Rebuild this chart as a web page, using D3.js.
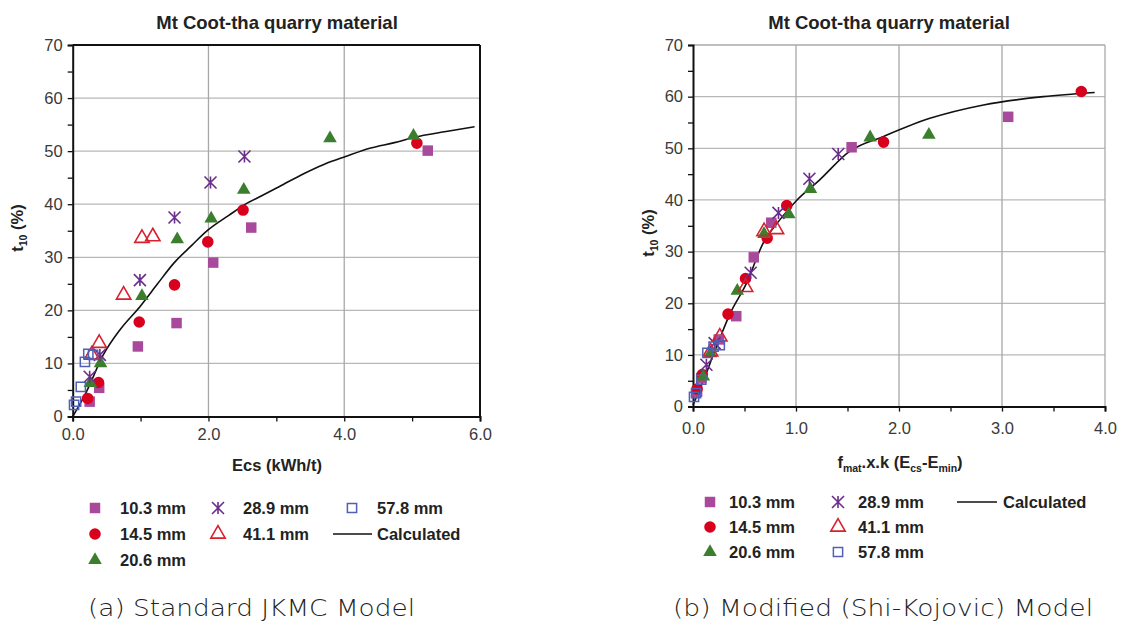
<!DOCTYPE html>
<html><head><meta charset="utf-8">
<script src="https://cdn.jsdelivr.net/npm/d3@7"></script>
<style>
html,body{margin:0;padding:0;background:#fff;}
svg{display:block;font-family:"Liberation Sans",Arial,sans-serif;}
</style></head>
<body>
<svg id="chart" width="1122" height="621"></svg>
<script>
// ---------- DATA ----------
const seriesNames = ["10.3 mm","14.5 mm","20.6 mm","28.9 mm","41.1 mm","57.8 mm"];
const yTicks = [0,10,20,30,40,50,60,70];
const xTicksA = ["0.0","2.0","4.0","6.0"];
const xTicksB = ["0.0","1.0","2.0","3.0","4.0"];

// (a) Standard JKMC model: [Ecs, t10]
const a103 = [[5.23,50.1],[2.63,35.6],[2.07,29.0],[1.53,17.6],[0.96,13.2],[0.39,5.4],[0.25,2.8]];
const a145 = [[5.07,51.5],[2.51,38.9],[1.99,32.9],[1.50,24.8],[0.98,17.8],[0.38,6.4],[0.22,3.4]];
const a206 = [[3.79,52.4],[5.02,52.9],[2.52,42.7],[2.04,37.3],[1.54,33.4],[1.02,22.7],[0.41,10.0],[0.26,6.3]];
const a289 = [[2.53,49.0],[2.03,44.1],[1.50,37.5],[0.99,25.7],[0.40,11.6],[0.25,7.5]];
const a411 = [[1.18,33.9],[1.02,33.6],[0.75,22.9],[0.39,13.8],[0.28,11.6]];
const a578 = [[0.23,11.8],[0.30,11.6],[0.18,10.3],[0.12,5.6],[0.05,2.8],[0.02,2.2]];
const aCalc = [[0,0],[0.1,2.2],[0.2,4.6],[0.45,11.6],[0.7,16.4],[0.99,20.7],[1.25,25.0],[1.49,28.9],[1.75,32.2],[1.99,35.1],[2.3,37.9],[2.57,40.2],[2.77,41.5],[3.04,43.3],[3.41,45.8],[3.7,47.5],[4.02,49.0],[4.39,50.6],[4.74,51.6],[5.03,52.6],[5.5,53.7],[5.92,54.6]];

// (b) Modified (Shi-Kojovic) model: [fmat.x.k(Ecs-Emin), t10]
const b103 = [[3.06,56.1],[1.54,50.2],[0.76,35.6],[0.59,28.9],[0.42,17.5],[0.25,13.0],[0.08,5.5],[0.04,2.9]];
const b145 = [[3.77,61.0],[1.85,51.2],[0.91,38.9],[0.72,32.6],[0.51,24.8],[0.34,17.9],[0.09,6.2],[0.04,3.4]];
const b206 = [[2.29,52.6],[1.72,52.1],[1.14,42.1],[0.93,37.2],[0.69,33.4],[0.43,22.4],[0.17,10.3],[0.10,5.8]];
const b289 = [[1.41,48.9],[1.13,44.1],[0.83,37.5],[0.56,25.9],[0.21,12.3],[0.13,8.1]];
const b411 = [[0.81,34.3],[0.69,33.9],[0.51,23.1],[0.26,13.5],[0.17,10.6]];
const b578 = [[0.26,11.9],[0.20,11.6],[0.14,10.4],[0.08,5.2],[0.03,2.6],[0.01,1.9]];
const bCalc = [[0,0.3],[0.05,2.6],[0.12,6.0],[0.2,10.2],[0.26,13.2],[0.36,18.0],[0.52,23.9],[0.68,31.6],[0.84,36.1],[1.01,40.0],[1.23,43.9],[1.52,49.4],[1.85,52.3],[2.3,55.8],[2.82,58.4],[3.4,60.0],[3.9,60.8]];

// ---------- STYLES ----------
const styles = [
  {type:"square", fill:"#a8499c", stroke:"none"},
  {type:"circle", fill:"#d8001c", stroke:"none"},
  {type:"triangle", fill:"#3b7f2e", stroke:"none"},
  {type:"asterisk", fill:"none", stroke:"#6b2d8c"},
  {type:"otriangle", fill:"none", stroke:"#d8202e"},
  {type:"osquare", fill:"none", stroke:"#5060b4"}
];
const FS = 16.5;
const TXT = "#222";

const svg = d3.select("#chart");

function drawMarker(g, st, x, y) {
  if (st.type === "square") {
    g.append("path").attr("d", d3.symbol(d3.symbolSquare, 110)()).attr("transform",`translate(${x},${y})`).attr("fill",st.fill);
  } else if (st.type === "circle") {
    g.append("path").attr("d", d3.symbol(d3.symbolCircle, 105)()).attr("transform",`translate(${x},${y})`).attr("fill",st.fill);
  } else if (st.type === "triangle") {
    g.append("path").attr("d", d3.symbol(d3.symbolTriangle, 80)()).attr("transform",`translate(${x},${y})`).attr("fill",st.fill);
  } else if (st.type === "otriangle") {
    g.append("path").attr("d", d3.symbol(d3.symbolTriangle, 90)()).attr("transform",`translate(${x},${y})`).attr("fill","none").attr("stroke",st.stroke).attr("stroke-width",1.6);
  } else if (st.type === "osquare") {
    g.append("path").attr("d", d3.symbol(d3.symbolSquare, 85)()).attr("transform",`translate(${x},${y})`).attr("fill","none").attr("stroke",st.stroke).attr("stroke-width",1.5);
  } else if (st.type === "asterisk") {
    const r = 6;
    g.append("path").attr("d", `M${-r},${-r}L${r},${r}M${-r},${r}L${r},${-r}M0,${-r}L0,${r}`)
      .attr("transform",`translate(${x},${y})`).attr("fill","none").attr("stroke",st.stroke).attr("stroke-width",1.6);
  }
}

function panel(cfg) {
  const x = d3.scaleLinear().domain(cfg.xDomain).range([cfg.left, cfg.right]);
  const y = d3.scaleLinear().domain([0,70]).range([cfg.bottom, cfg.top]);
  const g = svg.append("g");

  const xMajorVals = cfg.xTicks.map(Number);
  g.selectAll(null).data(yTicks.slice(1, -1)).enter().append("line")
    .attr("x1", cfg.left).attr("x2", cfg.right).attr("y1", d=>y(d)).attr("y2", d=>y(d))
    .attr("stroke","#b8b8b8").attr("stroke-width",1.3);
  g.selectAll(null).data(xMajorVals.slice(1, -1)).enter().append("line")
    .attr("y1", cfg.top).attr("y2", cfg.bottom).attr("x1", d=>x(d)).attr("x2", d=>x(d))
    .attr("stroke","#a8a8a8").attr("stroke-width",1.3);

  g.append("line").attr("x1",cfg.left).attr("x2",cfg.right).attr("y1",cfg.top).attr("y2",cfg.top)
    .attr("stroke",cfg.frameColor).attr("stroke-width",cfg.frameWidth);
  g.append("line").attr("x1",cfg.right).attr("x2",cfg.right).attr("y1",cfg.top).attr("y2",cfg.bottom)
    .attr("stroke",cfg.frameColor).attr("stroke-width",cfg.frameWidth);

  const yAxis = d3.axisLeft(y).tickValues(d3.range(0, 71, 5)).tickSize(5)
    .tickFormat(d => yTicks.includes(d) ? String(d) : "");
  const ya = g.append("g").attr("transform",`translate(${cfg.left},0)`).call(yAxis);
  ya.select(".domain").attr("stroke","#111").attr("stroke-width",2);
  ya.selectAll(".tick line").attr("stroke","#111").attr("stroke-width",1.3);
  ya.selectAll(".tick text").attr("font-size",FS).attr("fill","#3a3a3a").attr("x",-10)
    .attr("font-family","'Liberation Sans',Arial,sans-serif");

  const xAxis = d3.axisBottom(x).tickValues(d3.range(cfg.xDomain[0], cfg.xDomain[1] + 1e-9, cfg.xMinor)).tickSize(5)
    .tickFormat(d => { const i = xMajorVals.findIndex(v => Math.abs(v - d) < 1e-9); return i >= 0 ? cfg.xTicks[i] : ""; });
  const xa = g.append("g").attr("transform",`translate(0,${cfg.bottom})`).call(xAxis);
  xa.select(".domain").attr("stroke","#111").attr("stroke-width",2);
  xa.selectAll(".tick line").attr("stroke","#111").attr("stroke-width",1.3);
  xa.selectAll(".tick text").attr("font-size",FS).attr("fill","#3a3a3a").attr("y",cfg.xLabelDy)
    .attr("font-family","'Liberation Sans',Arial,sans-serif");

  g.append("path").datum(cfg.calc)
    .attr("d", d3.line().x(d=>x(d[0])).y(d=>y(d[1])).curve(d3.curveMonotoneX))
    .attr("fill","none").attr("stroke","#111").attr("stroke-width",1.6);

  cfg.series.forEach((pts, i) => {
    const sg = g.append("g");
    pts.forEach(p => drawMarker(sg, styles[i], x(p[0]), y(p[1])));
  });

  g.append("text").attr("x", cfg.titleX).attr("y", 29).attr("text-anchor","middle")
    .attr("font-size",18.5).attr("font-weight","bold").attr("fill",TXT).text("Mt Coot-tha quarry material");

  const yl = g.append("text").attr("transform",`translate(${cfg.yLabelX},${cfg.yLabelY}) rotate(-90)`)
    .attr("text-anchor","middle").attr("font-size",FS).attr("font-weight","bold").attr("fill",TXT);
  yl.append("tspan").text("t");
  yl.append("tspan").attr("font-size",10.5).attr("dy",4).text("10");
  yl.append("tspan").attr("dy",-4).text(" (%)");

  return {x, y, g};
}

panel({
  left:72.7, right:480, top:45, bottom:416.5,
  xDomain:[0,6], xTicks:xTicksA, xMinor:1, xLabelDy:12,
  frameColor:"#111", frameWidth:2,
  calc:aCalc, series:[a103,a145,a206,a289,a411,a578],
  titleX:277, yLabelX:23, yLabelY:228
});
svg.append("text").attr("x",277).attr("y",471).attr("text-anchor","middle")
  .attr("font-size",FS).attr("font-weight","bold").attr("fill",TXT).text("Ecs (kWh/t)");

panel({
  left:693, right:1105, top:45, bottom:406.6,
  xDomain:[0,4], xTicks:xTicksB, xMinor:0.5, xLabelDy:16,
  frameColor:"#aaa", frameWidth:1.3,
  calc:bCalc, series:[b103,b145,b206,b289,b411,b578],
  titleX:889, yLabelX:654, yLabelY:233
});
{
  const t = svg.append("text").attr("x",900).attr("y",468).attr("text-anchor","middle")
    .attr("font-size",FS).attr("font-weight","bold").attr("fill",TXT);
  t.append("tspan").text("f");
  t.append("tspan").attr("font-size",10.5).attr("dy",4).text("mat");
  t.append("tspan").attr("dy",-4).text(".x.k (E");
  t.append("tspan").attr("font-size",10.5).attr("dy",4).text("cs");
  t.append("tspan").attr("dy",-4).text("-E");
  t.append("tspan").attr("font-size",10.5).attr("dy",4).text("min");
  t.append("tspan").attr("dy",-4).text(")");
}

function legend(items) {
  const lg = svg.append("g");
  items.forEach(it => {
    if (it.idx >= 0) {
      drawMarker(lg, styles[it.idx], it.mx, it.my);
      lg.append("text").attr("x", it.tx).attr("y", it.my + 6).attr("font-size",FS).attr("font-weight","bold")
        .attr("fill",TXT).text(seriesNames[it.idx]);
    } else {
      lg.append("line").attr("x1", it.mx).attr("x2", it.mx2).attr("y1", it.my).attr("y2", it.my)
        .attr("stroke","#111").attr("stroke-width",1.6);
      lg.append("text").attr("x", it.tx).attr("y", it.my + 6).attr("font-size",FS).attr("font-weight","bold")
        .attr("fill",TXT).text("Calculated");
    }
  });
}
legend([
  {idx:0, mx:95, my:508, tx:120},
  {idx:1, mx:95, my:534, tx:120},
  {idx:2, mx:95, my:560, tx:120},
  {idx:3, mx:218, my:508, tx:243},
  {idx:4, mx:218, my:534, tx:243},
  {idx:5, mx:352, my:508, tx:377},
  {idx:-1, mx:333, mx2:372, my:534, tx:377}
]);
legend([
  {idx:0, mx:710, my:502, tx:729},
  {idx:1, mx:710, my:527, tx:729},
  {idx:2, mx:710, my:552, tx:729},
  {idx:3, mx:838, my:502, tx:858},
  {idx:4, mx:838, my:527, tx:858},
  {idx:5, mx:838, my:552, tx:858},
  {idx:-1, mx:957, mx2:997, my:502, tx:1003}
]);

svg.append("text").attr("x",88).attr("y",616).attr("font-family","'DejaVu Sans',sans-serif")
  .attr("font-size",23).attr("font-weight",200).attr("fill","#222")
  .attr("textLength",327).attr("lengthAdjust","spacingAndGlyphs").text("(a) Standard JKMC Model");
svg.append("text").attr("x",673).attr("y",616).attr("font-family","'DejaVu Sans',sans-serif")
  .attr("font-size",23).attr("font-weight",200).attr("fill","#222")
  .attr("textLength",420).attr("lengthAdjust","spacingAndGlyphs").text("(b) Modified (Shi-Kojovic) Model");
</script>
</body></html>
